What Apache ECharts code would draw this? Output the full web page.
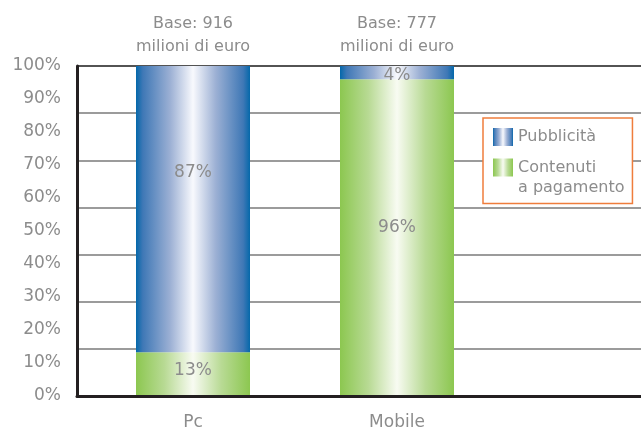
<!DOCTYPE html>
<html>
<head>
<meta charset="utf-8">
<script src="https://cdn.jsdelivr.net/npm/echarts@6/dist/echarts.min.js"></script>
<style>
  html, body { margin: 0; padding: 0; background: #ffffff; }
  #chart { width: 641px; height: 431px; }
</style>
</head>
<body>
<div id="chart"></div>
<script>
// Revenue split by channel (percent of each base)
const categories = ['Pc', 'Mobile'];
const baseMillions = [916, 777];
const paidContent = [13, 96];   // Contenuti a pagamento
const advertising = [87, 4];    // Pubblicità
const yTicks = ['0%', '10%', '20%', '30%', '40%', '50%', '60%', '70%', '80%', '90%', '100%'];

const FONT = 'DejaVu Sans';
const GREY = '#8c8c8c';

const blueFill = new echarts.graphic.LinearGradient(0, 0, 1, 0, [
  { offset: 0, color: '#0468aa' },
  { offset: 0.06, color: '#3f78b6' },
  { offset: 0.3, color: '#9cb0d4' },
  { offset: 0.5, color: '#f8f9fd' },
  { offset: 0.7, color: '#9cb0d4' },
  { offset: 0.94, color: '#3f78b6' },
  { offset: 1, color: '#0468aa' }
]);
const greenFill = new echarts.graphic.LinearGradient(0, 0, 1, 0, [
  { offset: 0, color: '#8cc750' },
  { offset: 0.25, color: '#b8da94' },
  { offset: 0.5, color: '#f8fbf2' },
  { offset: 0.75, color: '#b8da94' },
  { offset: 1, color: '#8cc750' }
]);

const chart = echarts.init(document.getElementById('chart'), null, { renderer: 'canvas' });

const pctLabel = {
  show: true,
  position: 'inside',
  color: GREY,
  fontFamily: FONT,
  fontSize: 17,
  formatter: p => p.value + '%'
};

// label nudges for the segments whose text is not centred
const paidContentData = paidContent.map((v, i) =>
  i === 1 ? { value: v, label: { offset: [0, -10] } } : { value: v, label: { offset: [0, -3] } });
const advertisingData = advertising.map((v, i) =>
  i === 0 ? { value: v, label: { offset: [0, -37] } } : { value: v, label: { offset: [0, 3] } });

chart.setOption({
  animation: false,
  textStyle: { fontFamily: FONT },
  grid: [
    { left: 77, right: 0, top: 66, bottom: 35 },
    { left: 91, width: 408, top: 66, bottom: 34 }
  ],
  xAxis: [
    {
      gridIndex: 0, type: 'value', min: 0, max: 1, z: 5,
      axisLine: { show: true, onZero: false, lineStyle: { color: '#231f20', width: 3 } },
      axisTick: { show: false }, axisLabel: { show: false }, splitLine: { show: false }
    },
    {
      gridIndex: 1, type: 'category', data: categories, position: 'bottom',
      axisLine: { show: false }, axisTick: { show: false },
      axisLabel: { color: GREY, fontSize: 17, fontFamily: FONT, margin: 19 }
    },
    {
      gridIndex: 1, type: 'category', data: categories, position: 'top',
      axisLine: { show: false }, axisTick: { show: false },
      axisLabel: {
        color: GREY, fontSize: 16, fontFamily: FONT, margin: 8, lineHeight: 23,
        formatter: (v, i) => 'Base: ' + baseMillions[i] + '\nmilioni di euro'
      }
    }
  ],
  yAxis: [
    {
      gridIndex: 0, type: 'value', min: 0, max: 100, interval: 10, z: 5,
      axisLine: { show: true, lineStyle: { color: '#231f20', width: 3 } },
      axisTick: { show: false },
      axisLabel: {
        color: GREY, fontSize: 17, fontFamily: FONT, margin: 16,
        formatter: v => yTicks[Math.round(v / 10)]
      },
      splitLine: { show: false }
    },
    {
      gridIndex: 0, type: 'value', min: 0, max: 100, interval: 100 / 7,
      axisLine: { show: false }, axisTick: { show: false }, axisLabel: { show: false },
      splitLine: {
        show: true,
        lineStyle: {
          width: 1.5,
          color: ['#7a7a7a', '#7a7a7a', '#7a7a7a', '#7a7a7a', '#7a7a7a', '#7a7a7a', '#7a7a7a', '#1a1a1a']
        }
      }
    },
    {
      gridIndex: 1, type: 'value', min: 0, max: 100, show: false
    }
  ],
  legend: {
    orient: 'vertical',
    left: 483, top: 118,
    backgroundColor: '#ffffff',
    borderColor: '#ef7d3c', borderWidth: 1.5, borderRadius: 0,
    padding: [9, 8, 6, 10],
    itemWidth: 20, itemHeight: 18, itemGap: -9.5,
    icon: 'rect',
    textStyle: { color: GREY, fontSize: 16, fontFamily: FONT, lineHeight: 20 },
    data: ['Pubblicità', 'Contenuti a pagamento'],
    // leading blank line keeps "Contenuti" level with its swatch
    formatter: name => name === 'Contenuti a pagamento' ? ' \nContenuti\na pagamento' : name
  },
  series: [
    {
      name: 'Contenuti a pagamento', type: 'bar', stack: 'share',
      xAxisIndex: 1, yAxisIndex: 2, barWidth: 114,
      itemStyle: { color: greenFill },
      label: pctLabel,
      data: paidContentData
    },
    {
      name: 'Pubblicità', type: 'bar', stack: 'share',
      xAxisIndex: 1, yAxisIndex: 2, barWidth: 114,
      itemStyle: { color: blueFill },
      label: pctLabel,
      data: advertisingData
    }
  ]
});
</script>
</body>
</html>
